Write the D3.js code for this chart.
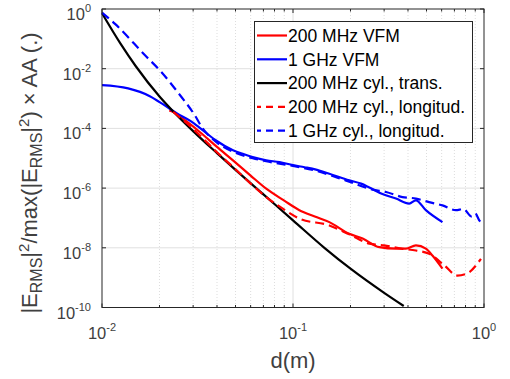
<!DOCTYPE html>
<html>
<head>
<meta charset="utf-8">
<script src="https://cdn.jsdelivr.net/npm/d3@7"></script>
<style>
body { margin: 0; background: #fff; }
svg { font-family: "Liberation Sans", Arial, sans-serif; }
</style>
</head>
<body>
<div id="chart"></div>
<script>
// distance d (m) and log10 of |E_RMS|^2/max(|E_RMS|^2) x AA
var redVfmD = [0.0225, 0.0236, 0.0275, 0.0325, 0.04, 0.0485, 0.06, 0.0724, 0.09, 0.108, 0.13, 0.155, 0.197, 0.2315, 0.283, 0.346, 0.39, 0.44, 0.496, 0.537, 0.606],
	redVfmE = [-3.40, -3.45, -3.75, -4.12, -4.62, -5.07, -5.58, -6.02, -6.42, -6.74, -6.95, -7.14, -7.53, -7.69, -7.98, -8.03, -8.03, -7.92, -8.03, -8.26, -8.70];

var blueVfmD = [0.01, 0.0137, 0.0178, 0.0212, 0.0247, 0.029, 0.0325, 0.039, 0.0485, 0.055, 0.0615, 0.0724, 0.085, 0.1, 0.115, 0.132, 0.155, 0.197, 0.227, 0.251, 0.294, 0.346, 0.406, 0.44, 0.496, 0.606],
	blueVfmE = [-2.55, -2.66, -2.92, -3.22, -3.50, -3.75, -3.98, -4.38, -4.73, -4.86, -4.96, -5.07, -5.13, -5.23, -5.30, -5.38, -5.52, -5.74, -5.85, -5.98, -6.20, -6.35, -6.52, -6.41, -6.74, -7.14];

var blackCylD = [0.01, 0.0125, 0.015, 0.02, 0.0236, 0.03, 0.04, 0.05, 0.07, 0.1, 0.146, 0.2, 0.3, 0.38],
	blackCylE = [-0.14, -1.16, -1.91, -2.93, -3.43, -4.09, -4.83, -5.39, -6.21, -7.08, -8.00, -8.70, -9.51, -9.95];

var redCylD = [0.0236, 0.0275, 0.0325, 0.04, 0.0485, 0.06, 0.0724, 0.09, 0.108, 0.155, 0.197, 0.251, 0.30, 0.37, 0.44, 0.516, 0.62, 0.725, 0.81, 0.964],
	redCylE = [-3.45, -3.80, -4.23, -4.80, -5.29, -5.85, -6.30, -6.72, -7.02, -7.25, -7.55, -7.86, -7.92, -8.03, -8.09, -8.20, -8.59, -8.93, -8.87, -8.37];

var blueCylD = [0.01, 0.0117, 0.0168, 0.0205, 0.025, 0.0306, 0.0335, 0.039, 0.0485, 0.0615, 0.0724, 0.1, 0.132, 0.19, 0.261, 0.307, 0.374, 0.44, 0.516, 0.606, 0.712, 0.78, 0.86, 0.90, 0.95, 1.0],
	blueCylE = [-0.12, -0.50, -1.55, -2.12, -2.80, -3.56, -3.98, -4.42, -4.78, -5.00, -5.10, -5.26, -5.42, -5.75, -6.05, -6.13, -6.30, -6.35, -6.47, -6.58, -6.74, -6.70, -6.95, -6.85, -7.10, -7.15];

var seriesNames = ["200 MHz VFM", "1 GHz VFM", "200 MHz cyl., trans.", "200 MHz cyl., longitud.", "1 GHz cyl., longitud."],
	seriesColors = ["#ff0000", "#0000ff", "#000000", "#ff0000", "#0000ff"],
	seriesDashed = [false, false, false, true, true];

var xTickVals = [0.01, 0.1, 1], xTickExp = ["-2", "-1", "0"],
	yTickVals = [1, 1e-2, 1e-4, 1e-6, 1e-8, 1e-10], yTickExp = ["0", "-2", "-4", "-6", "-8", "-10"];

var width = 510,
	height = 379,
	plot = {left: 102, right: 484, top: 9, bottom: 307.5},
	axisColor = "#262626";

var allD = [redVfmD, blueVfmD, blackCylD, redCylD, blueCylD],
	allE = [redVfmE, blueVfmE, blackCylE, redCylE, blueCylE];

var series = seriesNames.map(function(n, i){
	return {name: n, color: seriesColors[i], dashed: seriesDashed[i],
		values: allD[i].map(function(d, j){ return {d: d, v: Math.pow(10, allE[i][j])} })}
});

var x = d3.scaleLog().domain([0.01, 1]).range([plot.left, plot.right]),
	y = d3.scaleLog().domain([1e-10, 1]).range([plot.bottom, plot.top]);

var svg = d3.select("#chart").append("svg")
	.attr("width", width)
	.attr("height", height);

// minor x positions 2..9 per decade
var xMinor = [];
[0.01, 0.1].forEach(function(dec){
	for (var k = 2; k <= 9; k++) xMinor.push(dec*k);
});

var grid = svg.append("g");
grid.selectAll(".minorX")
	.data(xMinor)
	.enter().append("line")
	.attr("x1", function(d){ return x(d) }).attr("x2", function(d){ return x(d) })
	.attr("y1", plot.top).attr("y2", plot.bottom)
	.attr("stroke", "#d4d4d4").attr("stroke-width", 0.8)
	.attr("stroke-dasharray", "1,2");

grid.selectAll(".majorX")
	.data([0.1])
	.enter().append("line")
	.attr("x1", function(d){ return x(d) }).attr("x2", function(d){ return x(d) })
	.attr("y1", plot.top).attr("y2", plot.bottom)
	.attr("stroke", "#e0e0e0").attr("stroke-width", 1);

grid.selectAll(".majorY")
	.data(yTickVals.slice(1, -1))
	.enter().append("line")
	.attr("y1", function(d){ return y(d) }).attr("y2", function(d){ return y(d) })
	.attr("x1", plot.left).attr("x2", plot.right)
	.attr("stroke", "#e0e0e0").attr("stroke-width", 1);

// curves
var line = d3.line()
	.x(function(d){ return x(d.d) })
	.y(function(d){ return y(d.v) })
	.curve(d3.curveMonotoneX);

svg.append("g").selectAll("path")
	.data(series)
	.enter().append("path")
	.attr("d", function(d){ return line(d.values) })
	.attr("fill", "none")
	.attr("stroke", function(d){ return d.color })
	.attr("stroke-width", 2.2)
	.attr("stroke-dasharray", function(d){ return d.dashed ? "9,5" : null });

// axes box with inward ticks
var ax = svg.append("g").attr("stroke", axisColor).attr("stroke-width", 1);
ax.append("rect")
	.attr("x", plot.left).attr("y", plot.top)
	.attr("width", plot.right - plot.left).attr("height", plot.bottom - plot.top)
	.attr("fill", "none");

var xAllTicks = xMinor.concat(xTickVals);
ax.selectAll(".xt")
	.data(xAllTicks)
	.enter().append("path")
	.attr("d", function(d){
		var px = x(d), l = xTickVals.indexOf(d) >= 0 ? 4 : 2.5;
		return "M" + px + "," + plot.bottom + "v" + (-l) + "M" + px + "," + plot.top + "v" + l;
	});

ax.selectAll(".yt")
	.data(yTickVals)
	.enter().append("path")
	.attr("d", function(d){
		var py = y(d);
		return "M" + plot.left + "," + py + "h4M" + plot.right + "," + py + "h-4";
	});

// tick labels
var xLab = svg.append("g").selectAll("text")
	.data(xTickVals)
	.enter().append("text")
	.attr("x", function(d){ return x(d) })
	.attr("y", 339)
	.attr("text-anchor", "middle")
	.attr("fill", "#404040")
	.attr("font-size", "16.5px");
xLab.append("tspan").text("10");
xLab.append("tspan").attr("dy", -8).attr("font-size", "11px").text(function(d, i){ return xTickExp[i] });

var yLab = svg.append("g").selectAll("text")
	.data(yTickVals)
	.enter().append("text")
	.attr("x", 91)
	.attr("y", function(d){ return y(d) + 11 })
	.attr("text-anchor", "end")
	.attr("fill", "#404040")
	.attr("font-size", "16.5px");
yLab.append("tspan").text("10");
yLab.append("tspan").attr("dy", -8).attr("font-size", "11px").text(function(d, i){ return yTickExp[i] });

// axis titles
svg.append("text")
	.attr("x", (plot.left + plot.right) / 2)
	.attr("y", 368)
	.attr("text-anchor", "middle")
	.attr("fill", "#404040")
	.attr("font-size", "22px")
	.text("d(m)");

var yt = svg.append("text")
	.attr("transform", "translate(37,173) rotate(-90)")
	.attr("text-anchor", "middle")
	.attr("fill", "#404040")
	.attr("font-size", "22px");
yt.append("tspan").text("|E");
yt.append("tspan").attr("dy", 5).attr("font-size", "16px").text("RMS");
yt.append("tspan").attr("dy", -5).text("|");
yt.append("tspan").attr("dy", -8).attr("font-size", "15px").text("2");
yt.append("tspan").attr("dy", 8).text("/max(|E");
yt.append("tspan").attr("dy", 5).attr("font-size", "16px").text("RMS");
yt.append("tspan").attr("dy", -5).text("|");
yt.append("tspan").attr("dy", -8).attr("font-size", "15px").text("2");
yt.append("tspan").attr("dy", 8).text(") \u00d7 AA (.)");

// legend
var legend = svg.append("g");
legend.append("rect")
	.attr("x", 254.5).attr("y", 21.5)
	.attr("width", 218).attr("height", 121)
	.attr("fill", "#fff")
	.attr("stroke", axisColor).attr("stroke-width", 1);

var item = legend.selectAll(".item")
	.data(series)
	.enter().append("g")
	.attr("transform", function(d, i){ return "translate(0," + (35.5 + i*23.8) + ")" });

item.append("line")
	.attr("x1", 257).attr("x2", 287)
	.attr("stroke", function(d){ return d.color })
	.attr("stroke-width", 2.2)
	.attr("stroke-dasharray", function(d){ return d.dashed ? "7,5" : null })
	.attr("stroke-dashoffset", function(d){ return d.dashed ? 3 : null });

item.append("text")
	.attr("x", 288)
	.attr("y", 6.3)
	.attr("font-size", "17.5px")
	.attr("fill", "#000")
	.text(function(d){ return d.name });
</script>
</body>
</html>
